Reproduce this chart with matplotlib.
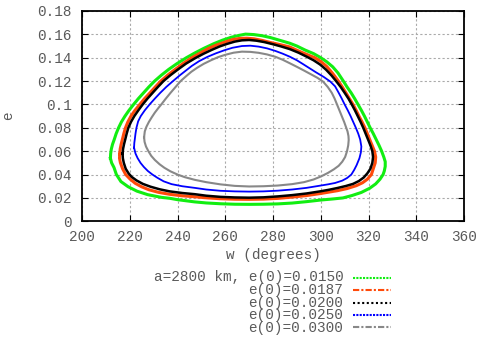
import matplotlib
matplotlib.use("Agg")
import matplotlib.pyplot as plt
from matplotlib.lines import Line2D

# curves: (w in degrees, e), going round each loop
w_0150 = [211.9, 212.0, 212.3, 212.8, 213.5, 214.3, 215.3, 216.5, 218.0, 219.7, 221.6, 223.6, 225.8, 228.0, 230.4,
          233.2, 236.3, 239.8, 243.7, 247.2, 251.0, 255.2, 258.8, 262.5, 265.5, 268.5, 272.0, 275.5, 279.0, 283.0,
          287.0, 290.0, 293.5, 297.0, 300.0, 302.5, 305.0, 307.2, 309.3, 311.0, 312.7, 314.2, 315.6, 317.0, 318.3,
          319.5, 320.7, 322.0, 323.2, 324.4, 325.5, 326.4, 327.0, 327.0, 326.6, 326.1, 324.8, 323.0, 320.5, 317.0,
          313.0, 309.3, 305.0, 300.0, 294.0, 288.0, 282.0, 276.0, 270.0, 264.0, 258.0, 252.0, 247.2, 240.0, 236.7,
          233.2, 227.5, 223.0, 219.3, 216.3, 214.4, 213.4, 212.4, 211.9]
e_0150 = [0.054, 0.058, 0.062, 0.066, 0.070, 0.075, 0.080, 0.085, 0.090, 0.095, 0.100, 0.105, 0.110, 0.115, 0.120,
          0.125, 0.130, 0.135, 0.140, 0.144, 0.148, 0.152, 0.155, 0.1575, 0.159, 0.1602, 0.1598, 0.1588, 0.1572, 0.1548,
          0.1524, 0.150, 0.1465, 0.1435, 0.140, 0.1365, 0.1322, 0.127, 0.1205, 0.115, 0.110, 0.105, 0.100, 0.095, 0.090,
          0.085, 0.080, 0.075, 0.070, 0.065, 0.060, 0.055, 0.051, 0.047, 0.043, 0.040, 0.036, 0.032, 0.0283, 0.0247,
          0.022, 0.0200, 0.0191, 0.0182, 0.0168, 0.0156, 0.0149, 0.0146, 0.0145, 0.0146, 0.0150, 0.0157, 0.0166, 0.0185,
          0.0197, 0.0205, 0.0228, 0.0258, 0.0296, 0.034, 0.040, 0.046, 0.050, 0.054]

w_0187 = [215.8, 216.0, 216.4, 216.9, 217.5, 218.2, 219.2, 220.5, 222.2, 224.2, 226.2, 228.5, 230.7, 233.0,
          235.8, 239.0, 242.3, 246.0, 249.5, 253.0, 256.5, 260.0, 263.0, 266.0, 269.0, 272.0, 275.5, 279.0, 283.0,
          287.0, 291.0, 294.5, 297.5, 300.0, 302.5, 305.0, 307.2, 309.0, 310.5, 312.0, 313.5, 314.8, 316.0, 317.3,
          318.5, 319.5, 320.5, 321.5, 322.5, 323.0, 322.8, 322.0, 321.2, 319.5, 317.5, 314.9, 311.0, 307.0, 300.0,
          294.0, 288.0, 282.0, 276.0, 270.0, 264.0, 258.0, 252.0, 247.2, 242.0, 236.7, 232.0, 228.0, 224.9, 222.3,
          220.2, 218.3, 217.0, 216.1, 215.7, 215.8]
e_0187 = [0.0573, 0.062, 0.066, 0.070, 0.075, 0.080, 0.085, 0.090, 0.095, 0.100, 0.105, 0.110, 0.115, 0.120,
          0.125, 0.130, 0.135, 0.140, 0.144, 0.148, 0.151, 0.1535, 0.1555, 0.1565, 0.1567, 0.1562, 0.1548, 0.153, 0.1512,
          0.1492, 0.1455, 0.1425, 0.140, 0.1368, 0.1325, 0.1265, 0.1205, 0.115, 0.110, 0.105, 0.100, 0.095, 0.090, 0.085,
          0.080, 0.075, 0.070, 0.065, 0.060, 0.055, 0.050, 0.045, 0.040, 0.036, 0.033, 0.0305, 0.028, 0.0262, 0.0238,
          0.022, 0.0207, 0.0196, 0.019, 0.0188, 0.0189, 0.0193, 0.0201, 0.021, 0.0218, 0.0231, 0.0248, 0.027, 0.0296, 0.0325,
          0.036, 0.040, 0.045, 0.050, 0.054, 0.0573]

w_0200 = [217.0, 217.2, 217.6, 218.1, 218.7, 219.4, 220.5, 221.9, 223.6, 225.4, 227.4, 229.6, 231.8, 234.1,
          237.0, 240.2, 243.6, 247.3, 250.8, 254.3, 257.7, 261.0, 264.0, 267.0, 270.0, 273.0, 276.3, 279.7, 283.3,
          287.0, 290.7, 294.0, 297.0, 299.7, 302.2, 304.5, 306.5, 308.4, 310.0, 311.6, 313.0, 314.3, 315.5, 316.7,
          317.8, 318.8, 319.8, 320.8, 321.6, 321.9, 321.6, 320.8, 319.5, 318.0, 316.0, 313.5, 310.5, 307.0, 303.5,
          300.0, 294.0, 288.0, 282.0, 276.0, 270.0, 264.0, 258.0, 252.0, 247.2, 242.0, 236.7, 232.5, 228.7, 225.5,
          222.8, 220.8, 219.5, 218.3, 217.5, 217.1, 217.0]
e_0200 = [0.058, 0.062, 0.066, 0.070, 0.075, 0.080, 0.085, 0.090, 0.095, 0.100, 0.105, 0.110, 0.115, 0.120,
          0.125, 0.130, 0.135, 0.1395, 0.1433, 0.1467, 0.1497, 0.152, 0.1538, 0.1549, 0.1552, 0.1546, 0.1534, 0.1517, 0.1497,
          0.1474, 0.1443, 0.141, 0.1378, 0.1342, 0.1298, 0.1248, 0.1198, 0.1148, 0.110, 0.105, 0.100, 0.095, 0.090, 0.085,
          0.080, 0.075, 0.070, 0.065, 0.060, 0.055, 0.050, 0.045, 0.041, 0.0375, 0.0345, 0.032, 0.0302, 0.0285, 0.027,
          0.0257, 0.0238, 0.0224, 0.0213, 0.0205, 0.0202, 0.0204, 0.0209, 0.0219, 0.0232, 0.0242, 0.0256, 0.0274, 0.0296, 0.032,
          0.035, 0.038, 0.041, 0.045, 0.050, 0.054, 0.058]

w_0250 = [221.8, 221.9, 222.1, 222.4, 222.8, 223.5, 224.6, 226.3, 228.3, 230.5, 232.8, 235.3, 238.1, 241.0, 243.5,
          246.0, 249.0, 252.5, 256.0, 259.5, 263.0, 267.0, 270.5, 274.0, 277.5, 281.0, 284.0, 287.0, 290.0, 292.6,
          295.3, 298.0, 301.2, 304.0, 306.0, 307.5, 308.8, 310.0, 311.3, 312.5, 313.6, 314.7, 315.7, 316.5, 317.0,
          316.8, 316.2, 315.0, 314.0, 312.8, 311.0, 309.0, 306.0, 303.0, 300.0, 294.0, 288.0, 282.0, 276.0, 270.0,
          264.0, 258.0, 252.0, 247.2, 242.0, 237.5, 234.2, 231.6, 229.5, 227.6, 225.9, 224.5, 223.3, 222.4, 221.8]
e_0250 = [0.063, 0.067, 0.070, 0.075, 0.080, 0.0855, 0.090, 0.095, 0.100, 0.105, 0.110, 0.115, 0.120, 0.125, 0.129,
          0.133, 0.137, 0.1407, 0.1437, 0.1463, 0.1485, 0.1500, 0.1503, 0.1495, 0.148, 0.1458, 0.1435, 0.1409, 0.1378, 0.1345,
          0.131, 0.1275, 0.1236, 0.1196, 0.1155, 0.110, 0.105, 0.100, 0.095, 0.090, 0.085, 0.080, 0.075, 0.070, 0.064,
          0.059, 0.054, 0.048, 0.044, 0.040, 0.037, 0.0348, 0.0328, 0.0316, 0.0306, 0.0286, 0.0272, 0.0262, 0.0256, 0.0254,
          0.0256, 0.0261, 0.0272, 0.0286, 0.030, 0.0318, 0.0342, 0.0372, 0.040, 0.043, 0.0465, 0.050, 0.054, 0.058, 0.063]

w_0300 = [226.0, 226.3, 227.0, 228.0, 229.2, 230.5, 232.0, 233.2, 235.1, 237.1, 239.2, 241.3, 243.5, 245.8, 248.3,
          251.0, 254.0, 257.0, 260.0, 263.5, 267.0, 270.5, 274.0, 277.5, 281.0, 284.0, 287.0, 290.0, 293.0, 296.0,
          298.6, 301.0, 302.9, 304.6, 305.8, 306.8, 307.8, 308.8, 309.8, 310.5, 311.2, 311.6, 311.7, 311.5, 311.0,
          310.2, 309.0, 307.5, 305.5, 303.0, 300.0, 297.0, 293.0, 288.0, 282.0, 276.0, 270.0, 264.0, 258.0, 252.0,
          247.2, 243.0, 240.0, 237.0, 234.5, 232.5, 230.5, 229.0, 227.8, 226.8, 226.2, 226.0]
e_0300 = [0.072, 0.077, 0.081, 0.085, 0.089, 0.093, 0.097, 0.100, 0.105, 0.110, 0.115, 0.120, 0.124, 0.128, 0.1315,
          0.1348, 0.1378, 0.1405, 0.1425, 0.1443, 0.1452, 0.1450, 0.1442, 0.1428, 0.1408, 0.1383, 0.1353, 0.1322, 0.129, 0.1257,
          0.1228, 0.1195, 0.115, 0.110, 0.105, 0.100, 0.095, 0.090, 0.085, 0.081, 0.077, 0.073, 0.0696, 0.065, 0.060,
          0.055, 0.051, 0.0475, 0.0445, 0.0414, 0.0383, 0.0358, 0.0335, 0.0318, 0.0306, 0.0300, 0.0298, 0.0303, 0.0316, 0.0335,
          0.0355, 0.0378, 0.040, 0.0428, 0.0458, 0.0488, 0.0525, 0.056, 0.060, 0.064, 0.068, 0.072]

labels = ["a=2800 km, e(0)=0.0150", "e(0)=0.0187", "e(0)=0.0200", "e(0)=0.0250", "e(0)=0.0300"]
colors = ["#11ee11", "#ff4a0a", "#000000", "#0000ff", "#888888"]
widths = [2.2, 2.2, 1.8, 1.3, 1.5]
key_styles = [(0, (1, 0.6)), (0, (3, 1, 1, 1)), (0, (1, 1.2)), (0, (1, 0.6)), (0, (3, 1, 1, 1))]

plt.rcParams["font.family"] = ["Liberation Mono", "DejaVu Sans Mono"]
plt.rcParams["font.size"] = 10.4
txt = "#5a5a5a"

fig = plt.figure(figsize=(4.81, 3.38), dpi=100)
ax = fig.add_axes([0.1705, 0.3453, 0.7942, 0.6222])

curves = [(w_0150, e_0150), (w_0187, e_0187), (w_0200, e_0200), (w_0250, e_0250), (w_0300, e_0300)]
for (w, e), c, lw in zip(curves, colors, widths):
    ax.plot(w, e, color=c, lw=lw, solid_joinstyle="round")

ax.set_xlim(200, 360)
ax.set_ylim(0, 0.18)
ax.set_xticks(range(200, 361, 20))
ax.set_yticks([0, 0.02, 0.04, 0.06, 0.08, 0.1, 0.12, 0.14, 0.16, 0.18])
ax.set_yticklabels(["0", "0.02", "0.04", "0.06", "0.08", "0.1", "0.12", "0.14", "0.16", "0.18"])
ax.grid(True, color="#aaaaaa", ls=(0, (2, 2)), lw=0.8)
ax.tick_params(direction="in", length=4, colors="#000000", labelcolor=txt, top=True, right=True)
ax.tick_params(axis="y", pad=7.5)
ax.tick_params(axis="x", pad=6)
for s in ax.spines.values():
    s.set_linewidth(1.3)
ax.set_xlabel("w (degrees)", color=txt, labelpad=3)
ax.set_ylabel("e", color=txt)
ax.yaxis.set_label_coords(-0.175, 0.5)

# gnuplot style key under the plot
ys = [277.7, 290.0, 302.5, 315.0, 327.3]
fig.text(343.5 / 481, 1 - ys[2] / 338, "\n".join(labels), ha="right", va="center",
         multialignment="right", linespacing=0.9, color=txt)
for c, st, y in zip(colors, key_styles, ys):
    fy = 1 - y / 338
    fig.add_artist(Line2D([353 / 481, 391 / 481], [fy, fy], color=c, lw=1.5, ls=st,
                          transform=fig.transFigure))

fig.savefig("out.png", dpi=100)
